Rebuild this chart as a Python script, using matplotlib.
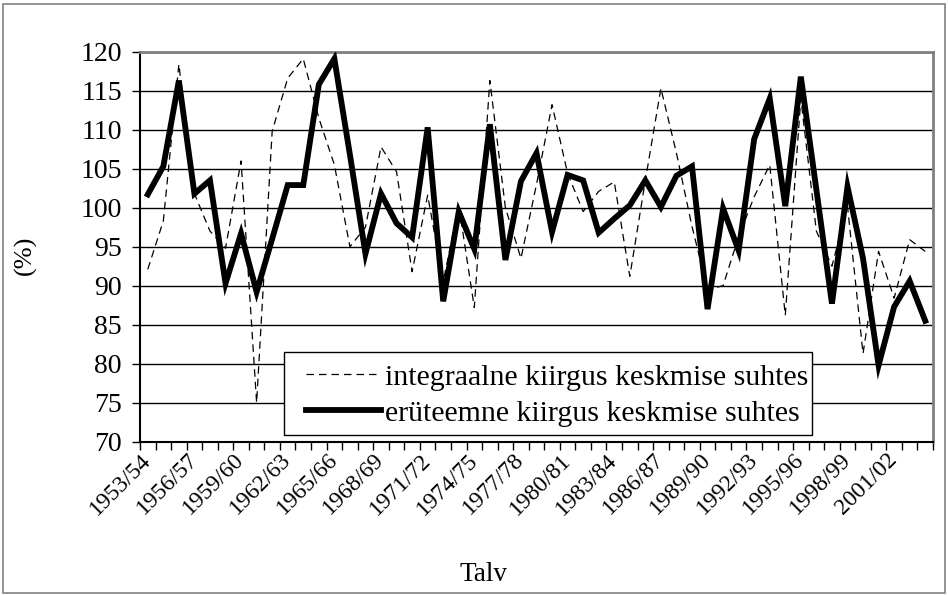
import matplotlib
matplotlib.use("Agg")
import matplotlib.pyplot as plt
from matplotlib.patches import Rectangle
from matplotlib.transforms import ScaledTranslation

winters = [f"{y}/{(y + 1) % 100:02d}" for y in range(1953, 2004)]

integraalne = [92.1, 98.3, 118.4, 101.8, 97.0, 94.8, 106.0, 75.0, 109.8, 116.6,
               119.1, 111.5, 105.5, 95.0, 97.5, 107.8, 104.6, 91.8, 101.6, 90.5,
               100.3, 87.2, 116.3, 100.0, 93.5, 103.0, 113.2, 104.4, 99.5, 102.1,
               103.3, 91.2, 103.5, 115.3, 107.0, 97.6, 89.5, 90.0, 96.3, 101.4,
               105.5, 86.2, 114.0, 97.0, 92.5, 100.2, 81.3, 94.4, 88.4, 95.9, 94.4]

eruteemne = [101.7, 105.3, 116.3, 101.8, 103.5, 90.3, 96.7, 89.2, 96.0, 102.9,
             102.9, 115.8, 119.1, 106.8, 94.1, 101.8, 98.0, 96.2, 110.3, 88.0,
             99.5, 94.7, 110.7, 93.3, 103.4, 107.0, 96.9, 104.2, 103.5, 96.8,
             98.6, 100.3, 103.5, 100.1, 104.1, 105.3, 87.0, 99.9, 94.5, 108.8,
             114.0, 100.2, 116.8, 102.3, 87.7, 102.7, 93.5, 79.8, 87.3, 90.6, 85.5]

y_ticks = [70, 75, 80, 85, 90, 95, 100, 105, 110, 115, 120]
label_step = 3

plt.rcParams['font.family'] = ['Liberation Serif', 'DejaVu Serif']

W, H = 948, 595
L, R, T, B = 140, 933, 51.7, 441.7

fig = plt.figure(figsize=(W / 100, H / 100), dpi=100)
fig.patches.append(Rectangle((0.003, 0.004), 0.994, 0.99, transform=fig.transFigure,
                             fill=False, edgecolor='#808080', linewidth=1.2))
ax = fig.add_axes([L / W, 1 - B / H, (R - L) / W, (B - T) / H])


def ax_x(px):
    return (px - L) / (R - L)


def ax_y(py):
    return (B - py) / (B - T)


x = list(range(len(winters)))
ax.plot(x, integraalne, color='black', linewidth=0.9, dashes=(6, 4),
        label='integraalne kiirgus keskmise suhtes', zorder=3)
ax.plot(x, eruteemne, color='black', linewidth=4.2, solid_joinstyle='miter',
        label='erüteemne kiirgus keskmise suhtes', zorder=4)

ax.set_xlim(-0.5, len(winters) - 0.5)
ax.set_ylim(70, 120)
ax.set_yticks(y_ticks)
ax.yaxis.grid(True, color='black', linewidth=1.0)
ax.set_axisbelow(True)

ax.set_xticks(x[::label_step])
ax.set_xticklabels(winters[::label_step], rotation=45, ha='right', va='center',
                   rotation_mode='anchor', fontsize=17)
shift = ScaledTranslation(-0.09, 0, fig.dpi_scale_trans)
for lab in ax.get_xticklabels():
    lab.set_transform(lab.get_transform() + shift)
ax.set_xticks([i - 0.5 for i in range(len(winters) + 1)], minor=True)
ax.tick_params(axis='x', which='major', length=0, pad=11)
ax.tick_params(axis='x', which='minor', length=6, width=1, direction='out')
ax.tick_params(axis='y', length=6, width=1, direction='out', labelsize=20, pad=7)

for s in ['left', 'bottom']:
    ax.spines[s].set_color('black')
    ax.spines[s].set_linewidth(1.5)
for s in ['top', 'right']:
    ax.spines[s].set_color('#808080')
    ax.spines[s].set_linewidth(2)

ax.set_ylabel('(%)', fontsize=19)
ax.yaxis.set_label_coords(ax_x(37), ax_y(255))
ax.set_xlabel('Talv', fontsize=19.5)
ax.xaxis.set_label_coords(ax_x(484), ax_y(562))

# legend frame
ax.add_patch(Rectangle((ax_x(284), ax_y(435)), ax_x(812) - ax_x(284), ax_y(352) - ax_y(435),
                       transform=ax.transAxes, facecolor='white', edgecolor='black',
                       linewidth=1.0, zorder=6))
leg = ax.legend(loc='upper left', bbox_to_anchor=(ax_x(306), ax_y(364)),
                fontsize=21.5, frameon=False, handlelength=2.5, handletextpad=0.15,
                borderpad=0, labelspacing=0.3, borderaxespad=0)
leg.set_zorder(7)

fig.savefig('out.png', dpi=100)
